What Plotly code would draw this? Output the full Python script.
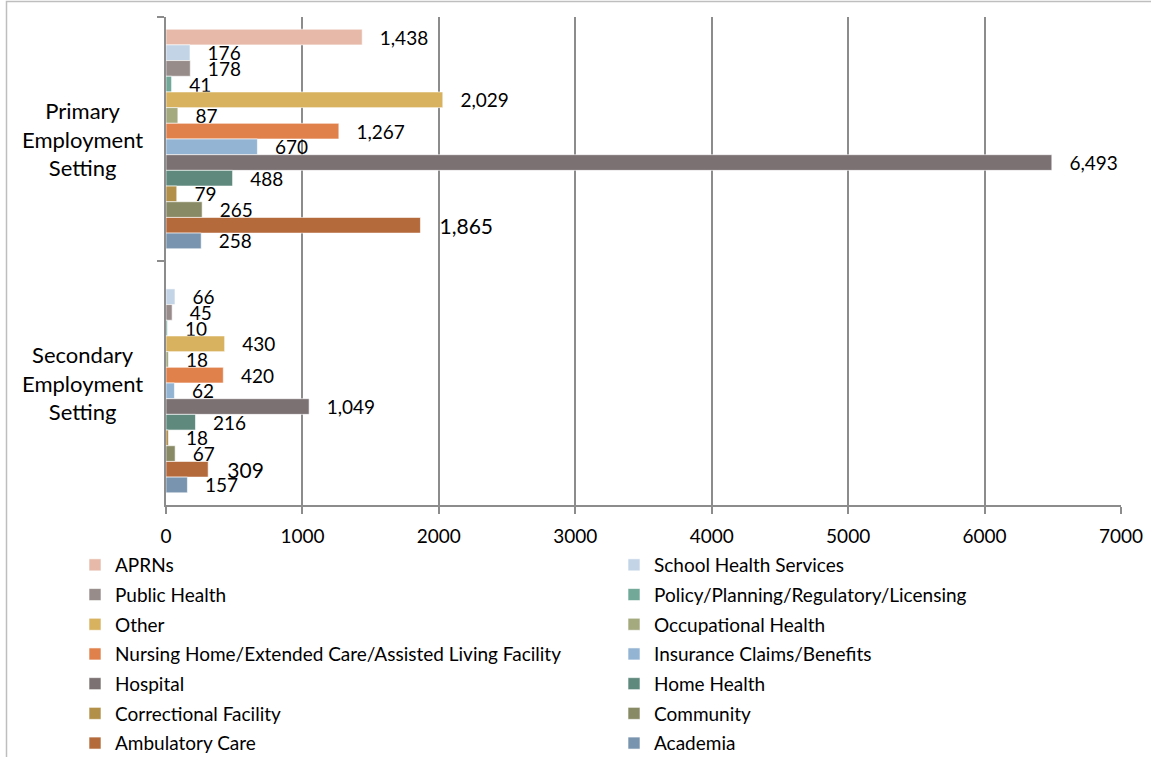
import plotly.graph_objects as go

categories = ["Primary Employment Setting", "Secondary Employment Setting"]
category_labels = ["Primary<br>Employment<br>Setting", "Secondary<br>Employment<br>Setting"]

series_names = [
    "APRNs", "School Health Services", "Public Health",
    "Policy/Planning/Regulatory/Licensing", "Other", "Occupational Health",
    "Nursing Home/Extended Care/Assisted Living Facility",
    "Insurance Claims/Benefits", "Hospital", "Home Health",
    "Correctional Facility", "Community", "Ambulatory Care", "Academia",
]
primary_values = [1438, 176, 178, 41, 2029, 87, 1267, 670, 6493, 488, 79, 265, 1865, 258]
secondary_values = [None, 66, 45, 10, 430, 18, 420, 62, 1049, 216, 18, 67, 309, 157]
colors = [
    "#E6B9A8", "#C3D4E6", "#978C8A", "#71A898", "#D8B25E", "#A4A97E",
    "#E0804A", "#93B4D3", "#7B7173", "#5F897D", "#B39049", "#888A65",
    "#B56A3C", "#7894AE",
]
x_tick_values = [0, 1000, 2000, 3000, 4000, 5000, 6000, 7000]

FONT = "Lato"
W, H = 1151, 757
ML, MR, MT, MB = 166, 30, 17, 252
PW, PH = W - ML - MR, H - MT - MB


def px_x(p):
    return (p - ML) / PW


def px_y(p):
    return (H - MB - p) / PH


fig = go.Figure()
for i, name in enumerate(series_names):
    vals = [primary_values[i], secondary_values[i]]
    texts = ["" if v is None else "\u00a0\u00a0\u00a0" + f"{v:,}" for v in vals]
    big = name == "Ambulatory Care"
    fig.add_trace(go.Bar(
        name=name,
        y=categories,
        x=vals,
        orientation="h",
        marker=dict(color=colors[i], line=dict(color="white", width=0.6)),
        text=texts,
        textposition="outside",
        constraintext="none",
        cliponaxis=False,
        textfont=dict(family=FONT, size=21 if big else 19, color="black"),
        legend="legend" if i % 2 == 0 else "legend2",
        legendgroup=name,
        hoverinfo="x+name",
    ))

for cat, lab in zip(categories, category_labels):
    fig.add_annotation(
        x=px_x(82), xref="paper", y=cat, yref="y",
        text=lab, showarrow=False, align="center",
        xanchor="center", yanchor="middle",
        font=dict(family=FONT, size=22, color="black"),
    )

fig.add_shape(
    type="rect", xref="paper", yref="paper",
    x0=px_x(6.5), x1=px_x(W + 20), y0=px_y(H + 20), y1=px_y(1.5),
    line=dict(color="#BEBEBE", width=1.5), fillcolor="rgba(0,0,0,0)", layer="below",
)

legend_common = dict(
    orientation="v", traceorder="grouped", tracegroupgap=2,
    font=dict(family=FONT, size=19, color="black"),
    bgcolor="rgba(0,0,0,0)", xanchor="left", yanchor="top",
    itemclick=False, itemdoubleclick=False,
)

fig.update_layout(
    width=W, height=H,
    margin=dict(l=ML, r=MR, t=MT, b=MB, autoexpand=False),
    paper_bgcolor="white", plot_bgcolor="white",
    barmode="group", bargap=0.1, bargroupgap=0,
    font=dict(family=FONT, color="black"),
    xaxis=dict(
        range=[0, 7000], tickvals=x_tick_values, ticktext=[str(v) for v in x_tick_values],
        showgrid=True, gridcolor="#8C8C8C", gridwidth=2,
        showline=True, linecolor="#8C8C8C", linewidth=2,
        ticks="outside", ticklen=7, tickwidth=2, tickcolor="#8C8C8C",
        ticklabelstandoff=6, zeroline=False,
        tickfont=dict(family=FONT, size=19, color="black"),
        fixedrange=True,
    ),
    yaxis=dict(
        type="category", categoryorder="array", categoryarray=categories,
        autorange="reversed", showticklabels=False,
        showline=True, linecolor="#8C8C8C", linewidth=2,
        ticks="outside", tickson="boundaries", ticklen=7, tickwidth=2,
        tickcolor="#8C8C8C", showgrid=False, zeroline=False, fixedrange=True,
    ),
    legend=dict(x=px_x(75), y=px_y(546), **legend_common),
    legend2=dict(x=px_x(614), y=px_y(546), **legend_common),
    showlegend=True,
)

fig.write_html("out.html")
